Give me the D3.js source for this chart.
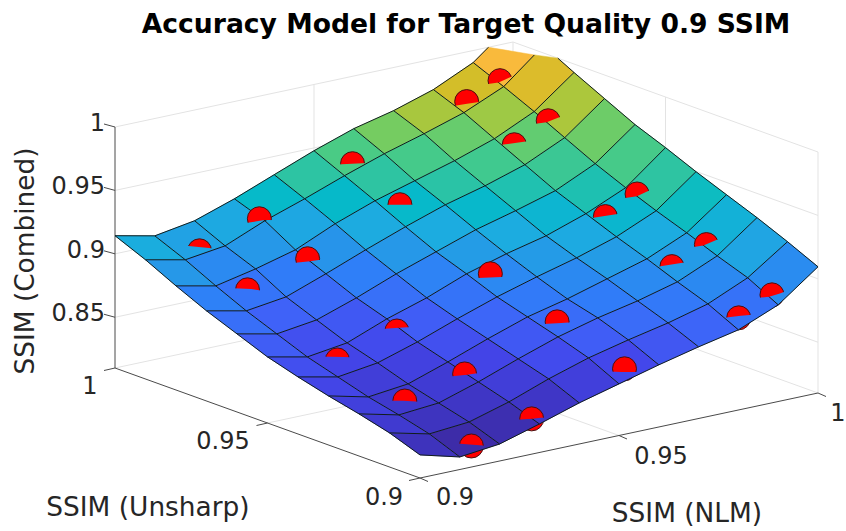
<!DOCTYPE html>
<html><head><meta charset="utf-8">
<script src="https://cdnjs.cloudflare.com/ajax/libs/d3/7.8.5/d3.min.js"></script>
<style>html,body{margin:0;padding:0;background:#fff}svg{display:block}text{font-family:"DejaVu Sans",sans-serif;fill:#262626}</style>
</head><body><svg id="c" width="846" height="531"></svg>
<script>
const titleText = "Accuracy Model for Target Quality 0.9 SSIM";
const xLabel = "SSIM (NLM)", yLabel = "SSIM (Unsharp)", zLabel = "SSIM (Combined)";
const xTicks = [0.9, 0.95, 1], yTicks = [0.9, 0.95, 1], zTicks = [0.85, 0.9, 0.95, 1];
const nlmGrid = [0.90,0.91,0.92,0.93,0.94,0.95,0.96,0.97,0.98,0.99,1.00];
const unsharpGrid = [0.90,0.91,0.92,0.93,0.94,0.95,0.96,0.97,0.98,0.99,1.00];
// rows: Unsharp index, columns: NLM index
const surfaceZ = [
 [.8282,.8199,.8234,.8325,.8424,.8507,.8590,.8665,.8732,.8862,.9095],
 [.8369,.8294,.8321,.8412,.8527,.8625,.8700,.8767,.8850,.8989,.9206],
 [.8432,.8357,.8384,.8483,.8598,.8704,.8787,.8854,.8937,.9075,.9309],
 [.8487,.8412,.8448,.8554,.8669,.8775,.8850,.8941,.9032,.9170,.9403],
 [.8550,.8483,.8527,.8625,.8740,.8846,.8937,.9020,.9119,.9257,.9498],
 [.8621,.8554,.8598,.8720,.8819,.8941,.9032,.9107,.9214,.9352,.9601],
 [.8716,.8649,.8692,.8799,.8921,.9028,.9135,.9218,.9309,.9455,.9696],
 [.8811,.8744,.8787,.8902,.9024,.9139,.9245,.9328,.9427,.9573,.9814],
 [.8921,.8854,.8921,.9004,.9143,.9257,.9348,.9439,.9545,.9692,.9933],
 [.9040,.8973,.9016,.9147,.9253,.9368,.9474,.9565,.9664,.9802,1.0059],
 [.9143,.9075,.9127,.9233,.9356,.9478,.9585,.9660,.9759,.9905,1.0154]
];
const ptNLM = [
 [.9151,.9293,.9534,.9820,.9903],
 [.9146,.9297,.9532,.9820,.9903],
 [.9148,.9296,.9530,.9822,.9901],
 [.9148,.9296,.9530,.9823,.9905],
 [.9149,.9299,.9533,.9823,.9905]
];
const ptUnsharp = [
 [.9920,.9909,.9918,.9917,.9916],
 [.9756,.9756,.9760,.9761,.9758],
 [.9464,.9462,.9461,.9465,.9464],
 [.9243,.9240,.9242,.9248,.9242],
 [.9026,.9024,.9025,.9029,.9027]
];
const ptCombined = [
 [.8992,.9159,.9424,.9723,.9833],
 [.8830,.8974,.9239,.9518,.9654],
 [.8529,.8660,.8955,.9207,.9333],
 [.8397,.8514,.8766,.9000,.9124],
 [.8230,.8345,.8582,.8786,.8914]
];
const colorZ = [.82,.835,.85,.865,.88,.892,.903,.915,.925,.937,.947,.956,.967,.98,1];
const colorHex = ["#3d2ca8","#3f38cc","#4346ea","#3f62f8","#2f7ff8","#2698e8","#1cace0","#05bac8","#2cc4a4","#4bcb84","#73cc63","#a6c83f","#d6bd28","#f9b93c","#f9fb15"];

const color = d3.scaleLinear().domain(colorZ).range(colorHex).clamp(true);
const ZMIN = 0.81, ZMAX = 1, XMIN=.9, XMAX=1, YMIN=.9, YMAX=1;
const sxX = d3.scaleLinear().domain([XMIN,XMAX]).range([420,818]);
const sxY = d3.scaleLinear().domain([YMIN,YMAX]).range([0,-305]);
const syX = d3.scaleLinear().domain([XMIN,XMAX]).range([478,393]);
const syY = d3.scaleLinear().domain([YMIN,YMAX]).range([0,-110]);
const syZ = d3.scaleLinear().domain([ZMIN,ZMAX]).range([0,-241]);
const depthX = d3.scaleLinear().domain([XMIN,XMAX]).range([0,-294]);
const depthY = d3.scaleLinear().domain([YMIN,YMAX]).range([0,-380]);
const depthZ = d3.scaleLinear().domain([ZMIN,ZMAX]).range([0,69.5]);
const proj = (x,y,z)=>[sxX(x)+sxY(y), syX(x)+syY(y)+syZ(z)];
const depth = p=>depthX(p[0])+depthY(p[1])+depthZ(p[2]);
const lerp3=(a,b,t)=>a.map((v,k)=>v+(b[k]-v)*t);
function clipPoly(pts,f){ // keep f(p)>=0
  const out=[];
  pts.forEach((p,k)=>{const q=pts[(k+1)%pts.length],a=f(p),b=f(q);
    if(a>=0)out.push(p);
    if((a>=0)!==(b>=0))out.push(lerp3(p,q,a/(a-b)));});
  return out;
}
const line=d3.line();
const svg=d3.select("#c");
const P3=(a)=>proj(a[0],a[1],a[2]);

// back walls & floor grid
const gGrid=svg.append("g").attr("fill","none").attr("stroke","#e3e3e3").attr("stroke-width",1);
const gl=(a,b)=>gGrid.append("path").attr("d",line([P3(a),P3(b)]));
zTicks.forEach(z=>{gl([XMIN,YMAX,z],[XMAX,YMAX,z]);gl([XMAX,YMAX,z],[XMAX,YMIN,z]);});
xTicks.slice(1).forEach(x=>gl([x,YMAX,ZMIN],[x,YMAX,ZMAX]));
yTicks.slice(0,2).forEach(y=>gl([XMAX,y,ZMIN],[XMAX,y,ZMAX]));
gl([XMIN,.95,ZMIN],[XMAX,.95,ZMIN]);gl([.95,YMIN,ZMIN],[.95,YMAX,ZMIN]);
gl([XMIN,YMAX,ZMIN],[XMAX,YMAX,ZMIN]);gl([XMAX,YMAX,ZMIN],[XMAX,YMIN,ZMIN]);

// axes
const gAx=svg.append("g").attr("fill","none").attr("stroke","#4a4a4a").attr("stroke-width",1);
const al=(a,b)=>gAx.append("path").attr("d",line([a,b]));
al(P3([XMIN,YMAX,ZMIN]),P3([XMIN,YMAX,ZMAX]));
al(P3([XMIN,YMAX,ZMIN]),P3([XMIN,YMIN,ZMIN]));
al(P3([XMIN,YMIN,ZMIN]),P3([XMAX,YMIN,ZMIN]));
zTicks.concat([]).forEach(z=>{const p=P3([XMIN,YMAX,z]);al(p,[p[0]-11,p[1]-3]);});
xTicks.forEach(x=>{const p=P3([x,YMIN,ZMIN]);al(p,[p[0]+8,p[1]+3.5]);});
yTicks.forEach(y=>{const p=P3([XMIN,y,ZMIN]);al(p,[p[0]-11,p[1]+2.5]);});

// marker geometry
const R=12;
const markers=[];
ptCombined.forEach((row,r)=>row.forEach((z,c)=>markers.push([ptNLM[r][c],ptUnsharp[r][c],z])));
const gBelow=svg.append("g");
const drawDisc=(g,m)=>{const p=P3(m);return g.append("circle").attr("cx",p[0]).attr("cy",p[1]).attr("r",R)
  .attr("fill","#ff0000").attr("stroke","#4a1010").attr("stroke-width",1);};
markers.forEach(m=>drawDisc(gBelow,m));

// surface fills (flat colour from the low corner of each cell)
const gSurf=svg.append("g");
const cell=(i,j)=>[[nlmGrid[i],unsharpGrid[j],surfaceZ[j][i]],[nlmGrid[i+1],unsharpGrid[j],surfaceZ[j][i+1]],
  [nlmGrid[i+1],unsharpGrid[j+1],surfaceZ[j+1][i+1]],[nlmGrid[i],unsharpGrid[j+1],surfaceZ[j+1][i]]];
const zOk=p=>ZMAX-p[2];
for(let j=nlmGrid.length-2;j>=0;j--)for(let i=nlmGrid.length-2;i>=0;i--){
  const poly=clipPoly(cell(i,j),zOk);
  if(poly.length<3)continue;
  const c=color(surfaceZ[j][i]);
  gSurf.append("path").attr("d",line(poly.map(P3))+"Z").attr("fill",c).attr("stroke",c).attr("stroke-width",.5);
}
// mesh lines, clipped at the z limit
const gMesh=svg.append("g").attr("fill","none").attr("stroke","#101c1c").attr("stroke-width",1);
const seg=(a,b)=>{let A=a,B=b;const fa=zOk(a),fb=zOk(b);
  if(fa<0&&fb<0)return;
  if(fa<0)A=lerp3(a,b,fa/(fa-fb));
  if(fb<0)B=lerp3(a,b,fa/(fa-fb));
  gMesh.append("path").attr("d",line([P3(A),P3(B)]));};
nlmGrid.forEach((x,i)=>unsharpGrid.forEach((y,j)=>{const p=[x,y,surfaceZ[j][i]];
  if(i<10)seg(p,[nlmGrid[i+1],y,surfaceZ[j][i+1]]);
  if(j<10)seg(p,[x,unsharpGrid[j+1],surfaceZ[j+1][i]]);}));

// visible part of each marker: where surface lies behind the marker plane
const defs=svg.append("defs");
const gTop=svg.append("g");
markers.forEach((m,k)=>{
  const T0=depth(m),c=P3(m);
  const cp=defs.append("clipPath").attr("id","m"+k);
  const near=p=>Math.hypot(p[0]-c[0],p[1]-c[1])<R*3.5;
  for(let j=0;j<10;j++)for(let i=0;i<10;i++){
    const q=cell(i,j);
    if(!q.some(v=>near(P3(v))))continue;
    [[q[0],q[1],q[2]],[q[0],q[2],q[3]]].forEach(tri=>{
      const poly=clipPoly(tri,p=>T0-depth(p));
      if(poly.length>=3)cp.append("path").attr("d",line(poly.map(P3))+"Z");
    });
  }
  drawDisc(gTop,m).attr("clip-path","url(#m"+k+")");
});

// text
const T=(s,x,y,size,anchor,weight)=>svg.append("text").attr("x",x).attr("y",y).attr("font-size",size)
  .attr("text-anchor",anchor||"middle").attr("font-weight",weight||"normal").text(s);
T(titleText,466,33,26.6,"middle","bold").style("fill","#000");
const fmt=d3.format("");
const TS=24;
zTicks.forEach(z=>{const p=P3([XMIN,YMAX,z]);T(fmt(z),p[0]-10,p[1]+4,TS,"end");});
T("1",90,394,TS);T("0.95",223,449,TS);T("0.9",384,505,TS);
T("0.9",455,505,TS);T("0.95",661,464,TS);T("1",838,421,TS);
const LS=26.4;
T(yLabel,148,516,LS);T(xLabel,687,522,LS);
svg.append("text").attr("transform","translate(34,261) rotate(-90)").attr("font-size",LS).attr("text-anchor","middle").text(zLabel);
</script></body></html>
